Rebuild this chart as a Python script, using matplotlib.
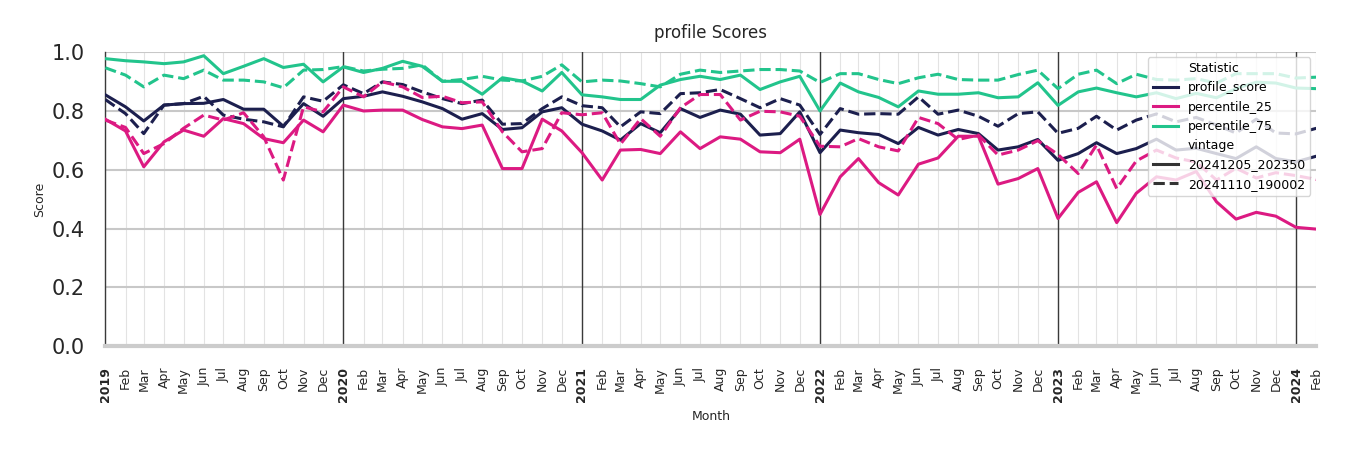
import numpy as np
import pandas as pd
import matplotlib
matplotlib.use('Agg')
import matplotlib.pyplot as plt
from matplotlib.lines import Line2D

# monthly values, Jan 2019 .. Feb 2024
months = pd.date_range('2019-01-01', periods=62, freq='MS')

profile_new = [0.855, 0.814, 0.766, 0.820, 0.825, 0.826, 0.839, 0.806, 0.806, 0.748, 0.825, 0.782,
               0.842, 0.850, 0.865, 0.850, 0.831, 0.808, 0.772, 0.791, 0.737, 0.743, 0.797, 0.811,
               0.755, 0.732, 0.701, 0.757, 0.726, 0.808, 0.778, 0.803, 0.789, 0.718, 0.723, 0.797,
               0.658, 0.735, 0.726, 0.720, 0.689, 0.744, 0.718, 0.737, 0.723, 0.667, 0.678, 0.703,
               0.632, 0.655, 0.692, 0.655, 0.672, 0.704, 0.667, 0.673, 0.655, 0.638, 0.678, 0.638,
               0.627, 0.646]
profile_old = [0.839, 0.791, 0.723, 0.820, 0.825, 0.850, 0.786, 0.772, 0.763, 0.746, 0.848, 0.833,
               0.889, 0.859, 0.899, 0.890, 0.865, 0.842, 0.825, 0.837, 0.755, 0.757, 0.808, 0.848,
               0.818, 0.811, 0.746, 0.797, 0.791, 0.859, 0.862, 0.873, 0.842, 0.811, 0.842, 0.820,
               0.720, 0.808, 0.789, 0.791, 0.789, 0.848, 0.789, 0.803, 0.782, 0.748, 0.791, 0.797,
               0.724, 0.741, 0.782, 0.735, 0.769, 0.790, 0.763, 0.778, 0.752, 0.725, 0.772, 0.725,
               0.722, 0.741]
p25_new = [0.772, 0.732, 0.610, 0.695, 0.735, 0.714, 0.774, 0.757, 0.706, 0.692, 0.769, 0.729,
           0.820, 0.800, 0.803, 0.803, 0.771, 0.746, 0.740, 0.752, 0.604, 0.604, 0.772, 0.732,
           0.658, 0.565, 0.667, 0.669, 0.655, 0.729, 0.672, 0.712, 0.704, 0.661, 0.658, 0.704,
           0.448, 0.576, 0.638, 0.556, 0.514, 0.619, 0.640, 0.714, 0.714, 0.551, 0.570, 0.604,
           0.434, 0.523, 0.559, 0.420, 0.520, 0.576, 0.565, 0.594, 0.491, 0.432, 0.455, 0.442,
           0.404, 0.398]
p25_old = [0.769, 0.744, 0.655, 0.689, 0.741, 0.786, 0.769, 0.794, 0.712, 0.565, 0.814, 0.797,
           0.882, 0.848, 0.899, 0.882, 0.846, 0.850, 0.828, 0.831, 0.729, 0.661, 0.672, 0.794,
           0.787, 0.794, 0.687, 0.774, 0.714, 0.811, 0.856, 0.856, 0.769, 0.799, 0.797, 0.782,
           0.680, 0.678, 0.706, 0.678, 0.664, 0.778, 0.757, 0.703, 0.718, 0.650, 0.667, 0.699,
           0.652, 0.587, 0.684, 0.536, 0.630, 0.667, 0.640, 0.626, 0.565, 0.605, 0.572, 0.590,
           0.580, 0.567]
p75_new = [0.978, 0.971, 0.967, 0.961, 0.967, 0.988, 0.927, 0.952, 0.978, 0.948, 0.959, 0.899,
           0.950, 0.931, 0.945, 0.969, 0.952, 0.901, 0.901, 0.857, 0.913, 0.902, 0.868, 0.931,
           0.855, 0.848, 0.839, 0.839, 0.888, 0.907, 0.918, 0.907, 0.922, 0.873, 0.899, 0.918,
           0.800, 0.895, 0.865, 0.846, 0.814, 0.868, 0.857, 0.857, 0.862, 0.845, 0.848, 0.896,
           0.819, 0.865, 0.878, 0.862, 0.848, 0.862, 0.842, 0.860, 0.845, 0.876, 0.898, 0.895,
           0.878, 0.876]
p75_old = [0.947, 0.922, 0.882, 0.922, 0.910, 0.939, 0.905, 0.905, 0.899, 0.879, 0.939, 0.941,
           0.951, 0.936, 0.942, 0.945, 0.957, 0.901, 0.907, 0.918, 0.905, 0.902, 0.918, 0.957,
           0.899, 0.905, 0.902, 0.893, 0.882, 0.925, 0.939, 0.931, 0.936, 0.941, 0.941, 0.936,
           0.897, 0.927, 0.927, 0.907, 0.893, 0.913, 0.925, 0.907, 0.905, 0.905, 0.924, 0.939,
           0.876, 0.925, 0.939, 0.893, 0.925, 0.907, 0.905, 0.910, 0.895, 0.927, 0.927, 0.927,
           0.912, 0.915]

stats = ['profile_score', 'percentile_25', 'percentile_75']
vintages = ['20241205_202350', '20241110_190002']
colors = {'profile_score': '#1c1f4e', 'percentile_25': '#dc1a82', 'percentile_75': '#22c48c'}
styles = {'20241205_202350': '-', '20241110_190002': '--'}
series = {('profile_score', '20241205_202350'): profile_new,
          ('profile_score', '20241110_190002'): profile_old,
          ('percentile_25', '20241205_202350'): p25_new,
          ('percentile_25', '20241110_190002'): p25_old,
          ('percentile_75', '20241205_202350'): p75_new,
          ('percentile_75', '20241110_190002'): p75_old}

fig = plt.figure(figsize=(13.5, 4.5), dpi=100)
ax = fig.add_axes([0.078, 0.231, 0.897, 0.653])

for s in stats:
    for v in vintages:
        ax.plot(months, series[(s, v)], color=colors[s], linestyle=styles[v], linewidth=2.2, zorder=3)

ax.set_xlim(months[0], months[-1])
ax.set_ylim(0, 1.0)

# month ticks, bold year label on January
ax.set_xticks(months)
labels = [str(d.year) if d.month == 1 else d.strftime('%b') for d in months]
ax.set_xticklabels(labels, rotation=90, fontsize=9)
for lab, d in zip(ax.get_xticklabels(), months):
    if d.month == 1:
        lab.set_fontweight('bold')
ax.tick_params(axis='x', length=0, pad=15, colors='#262626')
ax.set_yticks([0.0, 0.2, 0.4, 0.6, 0.8, 1.0])
ax.tick_params(axis='y', length=0, pad=15, labelsize=15, colors='#262626')

ax.grid(axis='x', color='#e3e3e3', linewidth=0.8, zorder=0)
ax.grid(axis='y', color='#c8c8c8', linewidth=1.5, zorder=0)
ax.set_axisbelow(True)
for d in months[months.month == 1][1:]:
    ax.axvline(d, color='#3a3a3a', linewidth=1.0, zorder=1.5)

for sp in ['top', 'right']:
    ax.spines[sp].set_visible(False)
ax.spines['left'].set_color('#3a3a3a')
ax.spines['left'].set_linewidth(1.0)
ax.spines['bottom'].set_color('#cccccc')
ax.spines['bottom'].set_linewidth(3)

ax.set_title('profile Scores', fontsize=12, color='#262626', pad=10)
ax.set_xlabel('Month', fontsize=9, color='#262626', labelpad=6)
ax.set_ylabel('Score', fontsize=9, color='#262626', labelpad=4)

blank = Line2D([], [], linestyle='none')
handles = [blank] + [Line2D([], [], color=colors[s], linewidth=2.2) for s in stats] + [blank] + \
          [Line2D([], [], color='#333333', linestyle=styles[v], linewidth=2.2) for v in vintages]
names = ['Statistic'] + stats + ['vintage'] + vintages
leg = ax.legend(handles, names, loc='upper right', bbox_to_anchor=(0.995, 0.983), borderaxespad=0,
                fontsize=9, framealpha=0.8, edgecolor='#cccccc', handlelength=2.0, labelspacing=0.5)
leg.set_zorder(5)

fig.savefig('out.png', dpi=100)
